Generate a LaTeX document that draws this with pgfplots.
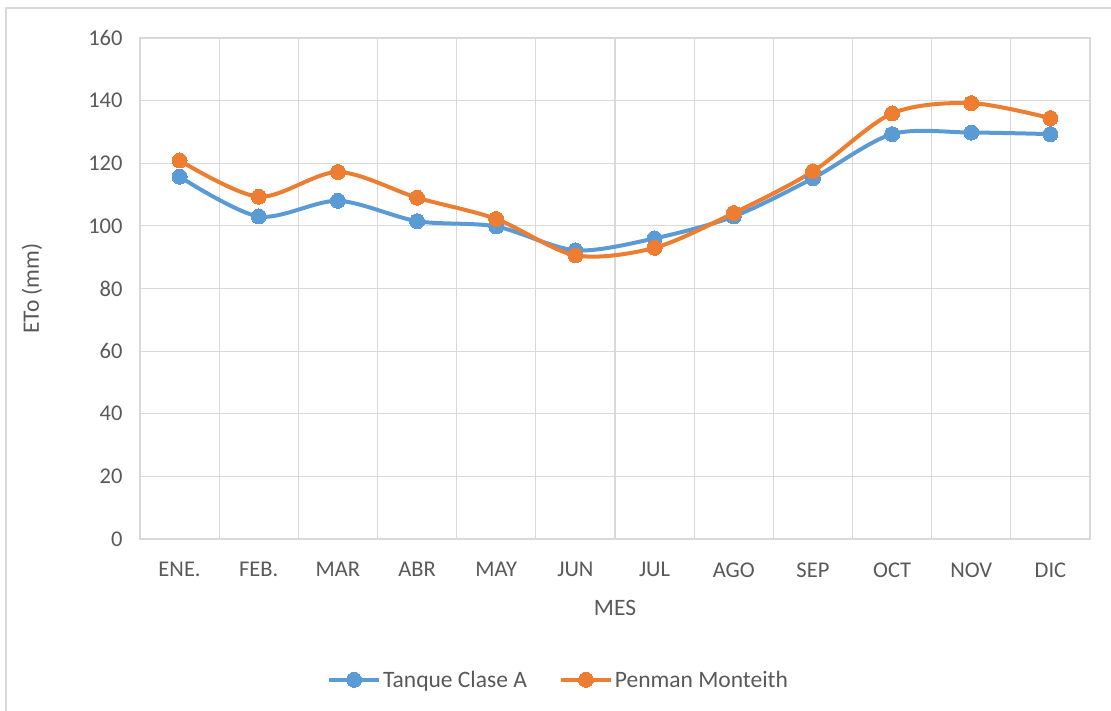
\documentclass[border=0pt]{standalone}
\usepackage{fontspec}
\setmainfont{Carlito}
\usepackage{pgfplots}
\pgfplotsset{compat=1.18}
\definecolor{cblue}{HTML}{5B9BD5}
\definecolor{corange}{HTML}{ED7D31}
\definecolor{cgrid}{HTML}{D9D9D9}
\definecolor{ctext}{HTML}{595959}
\begin{document}
\begin{tikzpicture}[x=1pt,y=1pt]
\useasboundingbox (-140,-172) rectangle (971,539);
\draw[cgrid, line width=1.5pt] (-134,-300) -- (-134,531) -- (1200,531);
\begin{axis}[
  at={(0,0)}, anchor=south west,
  scale only axis, width=950pt, height=501pt,
  xmin=-0.5, xmax=11.5, ymin=0, ymax=160,
  xtick={0,1,2,3,4,5,6,7,8,9,10,11},
  xticklabels={ENE., FEB., MAR, ABR, MAY, JUN, JUL, AGO, SEP, OCT, NOV, DIC},
  minor xtick={0.5,1.5,2.5,3.5,4.5,5.5,6.5,7.5,8.5,9.5,10.5},
  ytick={0,20,40,60,80,100,120,140,160},
  major tick length=0pt, minor tick length=0pt,
  xmajorgrids=false, xminorgrids=true, ymajorgrids=true,
  grid style={cgrid, line width=1.2pt},
  minor grid style={cgrid, line width=1.2pt},
  axis line style={cgrid, line width=1.2pt},
  tick label style={font=\fontsize{22.5}{26}\selectfont, text=ctext},
  /pgf/number format/assume math mode=true,
  yticklabel style={xshift=-14pt},
  xticklabel style={yshift=-20pt},
  xlabel={MES}, ylabel={ETo (mm)},
  label style={font=\fontsize{23.5}{27}\selectfont, text=ctext},
  xlabel style={at={(axis description cs:0.5,-0.1377)}, anchor=center},
  ylabel style={at={(axis description cs:-0.1137,0.5)}, anchor=center},
  legend style={at={(axis description cs:0.4405,-0.281)}, anchor=center, draw=none, fill=none,
    legend columns=2, font=\fontsize{23.5}{27}\selectfont, text=ctext,
    /tikz/every even column/.append style={column sep=30pt}},
  legend image code/.code={
    \draw[#1, mark=none] (0pt,0pt) -- (50pt,0pt);
    \draw[#1, only marks] plot coordinates {(25pt,0pt)};
  },
]
\addplot[cblue, line width=4pt, smooth, tension=0.5, mark=*, mark size=7.5pt, mark options={solid, fill=cblue, draw=cblue, line width=0pt}]
 coordinates {(0,115.7) (1,103.0) (2,108.0) (3,101.5) (4,99.8) (5,92.2) (6,96.0) (7,103.0) (8,115.2) (9,129.3) (10,129.8) (11,129.3)};
\addlegendentry{Tanque Clase A}
\addplot[corange, line width=4pt, smooth, tension=0.5, mark=*, mark size=7.5pt, mark options={solid, fill=corange, draw=corange, line width=0pt}]
 coordinates {(0,120.9) (1,109.3) (2,117.2) (3,109.0) (4,102.2) (5,90.6) (6,93.0) (7,104.1) (8,117.4) (9,135.9) (10,139.2) (11,134.4)};
\addlegendentry{Penman Monteith}
\end{axis}
\end{tikzpicture}
\end{document}
